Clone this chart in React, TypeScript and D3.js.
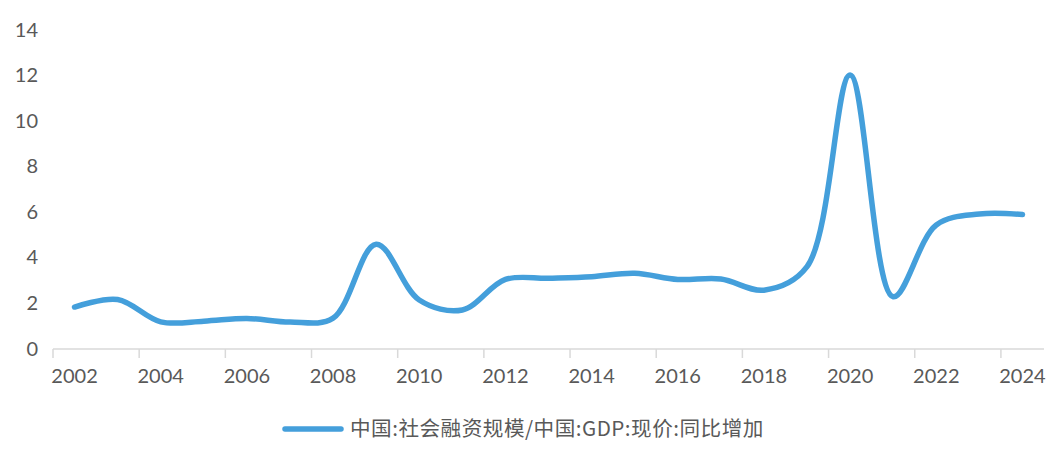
import React from "react";
import * as d3 from "d3";

const years: string[] = [
  "2002","2003","2004","2005","2006","2007","2008","2009","2010","2011","2012",
  "2013","2014","2015","2016","2017","2018","2019","2020","2021","2022","2023","2024",
];
const ratio: number[] = [
  1.82, 2.15, 1.17, 1.2, 1.32, 1.16, 1.33, 4.58, 2.13, 1.69, 3.03,
  3.08, 3.15, 3.3, 3.03, 3.05, 2.56, 3.59, 12.0, 2.27, 5.42, 5.9, 5.88,
];
const yTicks: number[] = [0, 2, 4, 6, 8, 10, 12, 14];
const xLabels: string[] = ["2002","2004","2006","2008","2010","2012","2014","2016","2018","2020","2022","2024"];
const seriesName = "中国:社会融资规模/中国:GDP:现价:同比增加";

const W = 1060;
const H = 456;
const LINE_COLOR = "#449fdb";
const TEXT_COLOR = "#595959";
const AXIS_COLOR = "#d9d9d9";
const NUM_FONT = "Lato, 'DejaVu Sans', sans-serif";

export default function App() {
  const x = d3.scaleBand<string>().domain(years).range([53, 1044]).padding(0);
  const y = d3.scaleLinear().domain([0, 14]).range([348.5, 29.5]);
  const bw = x.bandwidth();

  const line = d3
    .line<number>()
    .x((_, i) => (x(years[i]) as number) + bw / 2)
    .y((d) => y(d))
    .curve(d3.curveCatmullRom.alpha(0.5));

  const tickYears = years.filter((_, i) => i % 2 === 0);

  return (
    <svg
      width={W}
      height={H}
      style={{ position: "absolute", left: 0, top: 0, background: "#fff" }}
    >
      {yTicks.map((t) => (
        <text
          key={t}
          x={38}
          y={y(t)}
          dy="0.35em"
          textAnchor="end"
          fill={TEXT_COLOR}
          fontSize={20}
          fontFamily={NUM_FONT}
        >
          {t}
        </text>
      ))}
      <line x1={53} x2={1044} y1={349} y2={349} stroke={AXIS_COLOR} strokeWidth={1.5} />
      {tickYears.map((yr) => {
        const tx = x(yr) as number;
        return (
          <line key={"t" + yr} x1={tx} x2={tx} y1={349} y2={358} stroke={AXIS_COLOR} strokeWidth={1.5} />
        );
      })}
      {xLabels.map((lb) => (
        <text
          key={"l" + lb}
          x={(x(lb) as number) + bw / 2}
          y={376}
          dy="0.35em"
          textAnchor="middle"
          fill={TEXT_COLOR}
          fontSize={20}
          fontFamily={NUM_FONT}
        >
          {lb}
        </text>
      ))}
      <path
        d={line(ratio) || ""}
        fill="none"
        stroke={LINE_COLOR}
        strokeWidth={5.5}
        strokeLinecap="round"
        strokeLinejoin="round"
      />
      <line x1={285} x2={341} y1={429} y2={429} stroke={LINE_COLOR} strokeWidth={5.5} strokeLinecap="round" />
      <text
        x={350}
        y={429}
        dy="0.35em"
        fill={TEXT_COLOR}
        fontSize={20.6}
        letterSpacing={0.5}
        fontFamily="'Noto Sans CJK SC', sans-serif"
      >
        {seriesName}
      </text>
    </svg>
  );
}
